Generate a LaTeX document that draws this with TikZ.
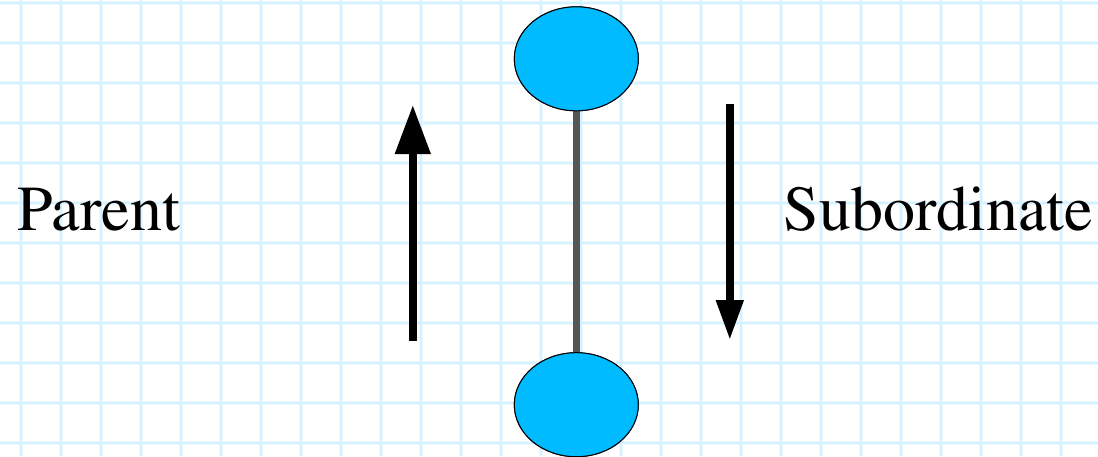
\documentclass[tikz,border=0pt]{standalone}
\usepackage[T1]{fontenc}
\usepackage{times}
\usetikzlibrary{shapes.geometric,arrows.meta}
\definecolor{gridblue}{RGB}{214,241,255}
\definecolor{gridhalo}{RGB}{236,249,255}
\definecolor{nodeblue}{RGB}{0,187,255}
\definecolor{linkgray}{RGB}{85,85,85}
\tikzset{
  blob/.style={ellipse,draw=black,line width=1pt,fill=nodeblue,minimum width=124pt,minimum height=104pt,inner sep=0pt},
  txtlabel/.style={inner sep=0pt,anchor=base west,font=\rmfamily\fontsize{64}{70}\selectfont},
  bigarrow/.style={line width=7.7pt,black},
}
\begin{document}
\begin{tikzpicture}[x=1pt,y=-1pt]
\useasboundingbox (0,0) rectangle (1098,456);
\fill[white] (0,0) rectangle (1098,456);
% grid
\foreach \gx in {20.7,60.7,...,1100} {\draw[gridhalo,line width=4pt] (\gx,0) -- (\gx,456);}
\foreach \gy in {3.3,43.3,...,460} {\draw[gridhalo,line width=4pt] (0,\gy) -- (1098,\gy);}
\foreach \gx in {20.7,60.7,...,1100} {\draw[gridblue,line width=2pt] (\gx,0) -- (\gx,456);}
\foreach \gy in {3.3,43.3,...,460} {\draw[gridblue,line width=2pt] (0,\gy) -- (1098,\gy);}
% nodes
\node[blob] (top) at (576.3,58.8) {};
\node[blob] (bot) at (576.3,404.7) {};
\draw[linkgray,line width=7.5pt] (top) -- (bot);
\node[blob] at (top) {};
\node[blob] at (bot) {};
% arrows
\coordinate (upS) at (412.8,340.7);
\coordinate (upE) at (412.8,105);
\coordinate (dnS) at (729.8,104);
\coordinate (dnE) at (729.8,340);
\draw[bigarrow,-{Triangle[length=49pt,width=34pt]}] (upS) -- (upE);
\draw[bigarrow,-{Triangle[length=40pt,width=26pt]}] (dnS) -- (dnE);
% labels
\node[txtlabel] (parent) at (17,230) {Parent};
\node[txtlabel] (sub) at (783.5,230) {Subordinate};
\end{tikzpicture}
\end{document}
